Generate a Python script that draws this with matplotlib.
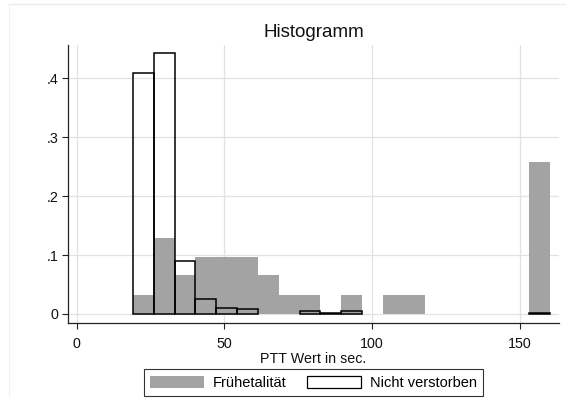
import matplotlib
matplotlib.use("Agg")
import matplotlib.pyplot as plt
from matplotlib.patches import Patch
from matplotlib.lines import Line2D

plt.rcParams['font.family'] = ['Liberation Sans', 'DejaVu Sans']

# ---- data ----
bin_start = 19.0
bin_width = 7.05
n_bins = 20
bin_lefts = [bin_start + i * bin_width for i in range(n_bins)]

frueh = [0.0328, 0.1296, 0.0657, 0.0968, 0.0968, 0.0968, 0.0657, 0.0328, 0.0328, 0.0,
         0.0328, 0.0, 0.0328, 0.0328, 0.0, 0.0, 0.0, 0.0, 0.0, 0.2586]
nicht = [0.410, 0.443, 0.0905, 0.0255, 0.0107, 0.0080, 0.0, 0.0, 0.0056, 0.0012,
         0.0056, 0.0, 0.0, 0.0, 0.0, 0.0, 0.0, 0.0, 0.0, 0.0015]

x_ticks = [0, 50, 100, 150]
y_ticks = [0, 0.1, 0.2, 0.3, 0.4]
y_ticklabels = ["0", ".1", ".2", ".3", ".4"]

title = "Histogramm"
xlabel = "PTT Wert in sec."
labels = ["Frühetalität", "Nicht verstorben"]

# ---- figure ----
W, H = 566, 398
fig = plt.figure(figsize=(W / 100, H / 100), dpi=100)
fig.patch.set_facecolor('white')

# faint outer frame
fig.add_artist(Line2D([9 / W, 1], [1 - 4 / H, 1 - 4 / H], transform=fig.transFigure,
                      color='#e4ecef', lw=0.9))
fig.add_artist(Line2D([9 / W, 9 / W], [0, 1 - 4 / H], transform=fig.transFigure,
                      color='#f0f3f5', lw=0.9))

l, r, t, b = 68, 559, 45, 323
ax = fig.add_axes([l / W, 1 - b / H, (r - l) / W, (b - t) / H])
ax.set_facecolor('white')

gray = '#a3a3a3'
fb = [(x, h) for x, h in zip(bin_lefts, frueh) if h > 0]
ax.bar([p[0] for p in fb], [p[1] for p in fb], width=bin_width, align='edge',
       color=gray, edgecolor='none', linewidth=0, zorder=2)
nb = [(x, h) for x, h in zip(bin_lefts, nicht) if h > 0]
ax.bar([p[0] for p in nb], [p[1] for p in nb], width=bin_width, align='edge',
       facecolor='none', edgecolor='black', linewidth=1.1, zorder=3)

ax.set_xlim(-2.94, 163.2)
ax.set_ylim(-0.0153, 0.4567)

ax.set_xticks(x_ticks)
ax.set_yticks(y_ticks)
ax.set_yticklabels(y_ticklabels)
ax.grid(True, color='#e2e2e2', linewidth=0.9, zorder=0)
ax.set_axisbelow(True)

for s in ['top', 'right']:
    ax.spines[s].set_visible(False)
for s in ['left', 'bottom']:
    ax.spines[s].set_linewidth(0.9)
    ax.spines[s].set_color('#222222')

ax.tick_params(axis='both', direction='out', length=4, width=0.8, colors='#222222',
               labelsize=10.3, labelcolor='#111111')
ax.tick_params(axis='x', pad=6)
ax.tick_params(axis='y', pad=3)

ax.set_title(title, fontsize=13.5, pad=6, color='#111111')
ax.set_xlabel(xlabel, fontsize=10.3, labelpad=1, color='#111111')

handles = [Patch(facecolor=gray, edgecolor='none'),
           Patch(facecolor='white', edgecolor='black', linewidth=0.9)]
leg = fig.legend(handles, labels, loc='center', ncol=2,
                 bbox_to_anchor=(313.4 / W, 1 - 382.9 / H),
                 bbox_transform=fig.transFigure,
                 fontsize=10.5, frameon=True, fancybox=False,
                 handlelength=3.7, handleheight=0.85, handletextpad=0.6,
                 columnspacing=1.4, borderpad=0.45, borderaxespad=0)
leg.get_frame().set_edgecolor('black')
leg.get_frame().set_linewidth(0.8)

fig.savefig('out.png', dpi=100, facecolor='white')
